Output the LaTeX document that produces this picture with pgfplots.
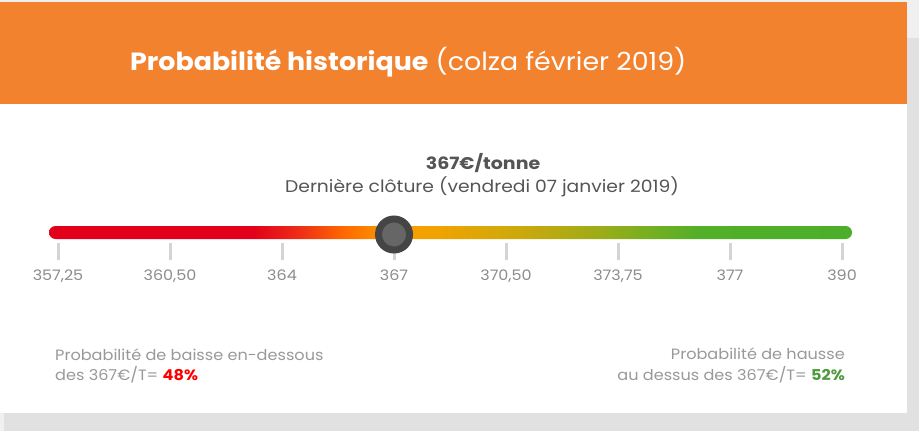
\documentclass[border=0pt]{standalone}
\usepackage{pgfplots}
\pgfplotsset{compat=1.18}
\usepackage{fontspec}
\setmainfont{Poppins}
\newfontfamily\wA[FakeStretch=1.078]{Poppins}
\newfontfamily\wB[FakeStretch=1.105]{Poppins}
\newfontfamily\wC[FakeStretch=1.12]{Poppins}
\definecolor{hdr}{HTML}{F2822E}
\definecolor{shadow}{HTML}{E1E1E1}
\definecolor{bgl}{HTML}{F0F0F0}
\definecolor{dark}{HTML}{555555}
\definecolor{tick}{HTML}{D4D4D4}
\definecolor{lbl}{HTML}{8C8C8C}
\definecolor{foot}{HTML}{999999}
\definecolor{cR}{HTML}{E2001A}
\definecolor{cA}{HTML}{EE2E17}
\definecolor{cB}{HTML}{FF6A00}
\definecolor{cC}{HTML}{FA9C00}
\definecolor{cD}{HTML}{F2A200}
\definecolor{cE}{HTML}{D6A80A}
\definecolor{cF}{HTML}{B4AA12}
\definecolor{cG}{HTML}{9CAC18}
\definecolor{cH}{HTML}{76AF20}
\definecolor{cI}{HTML}{52AF28}
\definecolor{cJ}{HTML}{4BAF2B}
\definecolor{pgreen}{HTML}{4E9A3C}
\pgfdeclarehorizontalshading{bargrad}{100bp}{color(0bp)=(cR); color(25bp)=(cR); color(37.7bp)=(cR); color(40.63bp)=(cA); color(43.43bp)=(cB); color(46.23bp)=(cC); color(48.72bp)=(cD); color(53.08bp)=(cE); color(56.82bp)=(cF); color(59.31bp)=(cG); color(62.42bp)=(cH); color(65.54bp)=(cI); color(75bp)=(cJ); color(100bp)=(cJ)}
\begin{document}
\begin{tikzpicture}[x=1bp,y=1bp]
\useasboundingbox (0,0) rectangle (919,431);
\fill[bgl] (0,0) rectangle (919,431);
\fill[shadow] (4,0) rectangle (919,393);
\fill[white] (0,18) rectangle (907,327);
\fill[hdr] (0,327) rectangle (907,429);
\node[anchor=base west, inner sep=0, text=white] at (130,361) {\wA\fontsize{25}{30}\selectfont\textbf{Probabilité historique} (colza février 2019)};
\node[anchor=base, inner sep=0, text=dark] at (483,262) {\wC\fontsize{17}{20}\selectfont\textbf{367€/tonne}};
\node[anchor=base, inner sep=0, text=dark] at (482,239) {\wB\fontsize{17}{20}\selectfont Dernière clôture (vendredi 07 janvier 2019)};
\node[anchor=base west, inner sep=0, text=foot] at (55,71) {\wA\fontsize{15}{18}\selectfont Probabilité de baisse en-dessous};
\node[anchor=base west, inner sep=0, text=foot] at (55,51) {\wA\fontsize{15}{18}\selectfont des 367€/T= \textcolor{red}{\textbf{48\%}}};
\node[anchor=base east, inner sep=0, text=foot] at (845,72) {\wA\fontsize{15}{18}\selectfont Probabilité de hausse};
\node[anchor=base east, inner sep=0, text=foot] at (845,51) {\wA\fontsize{15}{18}\selectfont au dessus des 367€/T= \textcolor{pgreen}{\textbf{52\%}}};
\begin{axis}[
  at={(49bp,171bp)}, anchor=south west,
  scale only axis, width=803bp, height=60bp,
  xmin=-0.0804, xmax=7.089, ymin=0, ymax=60,
  axis x line=bottom, axis y line=none,
  axis line style={draw=none},
  xtick={0,...,7},
  xticklabels={{357,25},{360,50},{364},{367},{370,50},{373,75},{377},{390}},
  tick align=inside, major tick length=17bp,
  xtick style={draw=tick, line width=3bp},
  xticklabel style={anchor=base, inner sep=0pt, yshift=-20bp, text=lbl, font=\wB\fontsize{14.5}{17}\selectfont},
  ytick=\empty, clip=false,
]
\addplot[draw=none, shading=bargrad, rounded corners=6.5bp] coordinates {(-0.0804,21) (7.089,21) (7.089,34) (-0.0804,34)} -- cycle;
\addplot[only marks, mark=*, mark size=15.5bp, mark options={draw=black!73, fill=black!60, line width=7bp}] coordinates {(3,25.5)};
\end{axis}
\end{tikzpicture}
\end{document}
